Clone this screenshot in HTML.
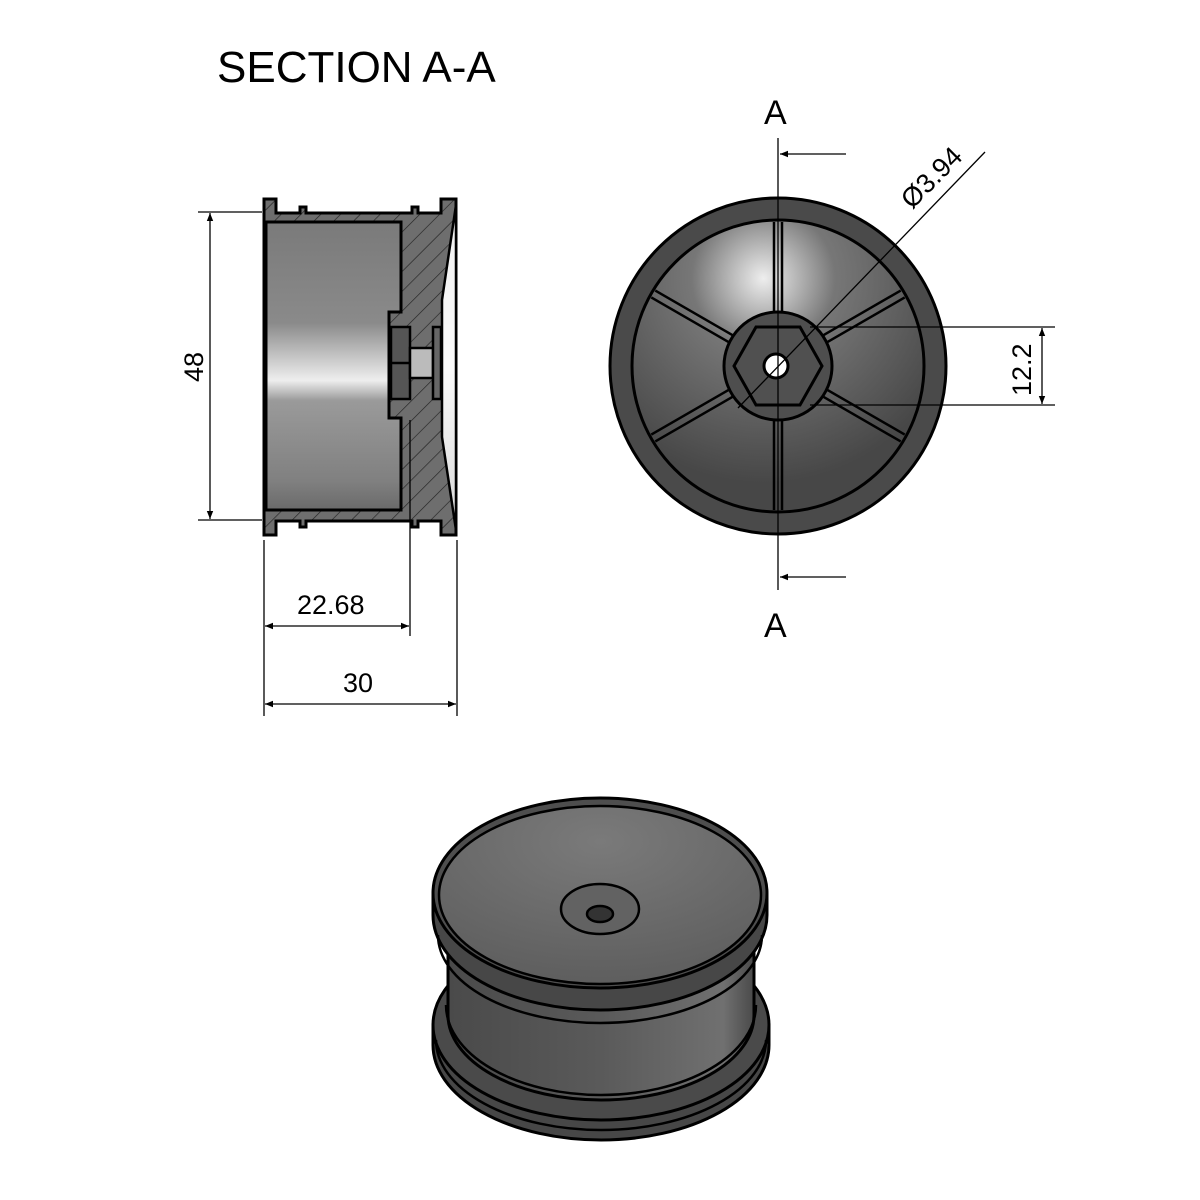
<!DOCTYPE html>
<html><head><meta charset="utf-8"><style>
html,body{margin:0;padding:0;background:#fff;width:1200px;height:1200px;overflow:hidden}
svg{display:block}
text{font-family:"Liberation Sans",sans-serif;fill:#000}
</style></head><body>
<svg width="1200" height="1200" viewBox="0 0 1200 1200" xmlns="http://www.w3.org/2000/svg">
<defs>
<linearGradient id="cyl" x1="0" y1="0" x2="0" y2="1">
<stop offset="0" stop-color="#7a7a7a"/><stop offset="0.35" stop-color="#8a8a8a"/><stop offset="0.55" stop-color="#eeeeee"/><stop offset="0.62" stop-color="#9a9a9a"/><stop offset="0.9" stop-color="#808080"/><stop offset="1" stop-color="#6a6a6a"/>
</linearGradient>
<linearGradient id="cone" x1="0" y1="0" x2="0" y2="1">
<stop offset="0" stop-color="#f0f0f0"/><stop offset="0.5" stop-color="#fafafa"/><stop offset="1" stop-color="#d8d8d8"/>
</linearGradient>
<pattern id="hatch" width="14" height="14" patternUnits="userSpaceOnUse" patternTransform="rotate(45)">
<rect width="14" height="14" fill="#6e6e6e"/><line x1="0" y1="0" x2="0" y2="14" stroke="#222" stroke-width="1.3"/>
</pattern>
<radialGradient id="face" cx="0.45" cy="0.2" r="0.7">
<stop offset="0" stop-color="#eeeeee"/><stop offset="0.35" stop-color="#777"/><stop offset="1" stop-color="#474747"/>
</radialGradient>
<linearGradient id="iso" x1="0" y1="0" x2="1" y2="0">
<stop offset="0" stop-color="#4a4a4a"/><stop offset="0.5" stop-color="#5a5a5a"/><stop offset="0.9" stop-color="#707070"/><stop offset="1" stop-color="#4a4a4a"/>
</linearGradient>
<radialGradient id="top" cx="0.5" cy="0.2" r="0.8">
<stop offset="0" stop-color="#7a7a7a"/><stop offset="1" stop-color="#5e5e5e"/>
</radialGradient>
<marker id="ar" viewBox="0 0 10 10" refX="10" refY="5" markerWidth="12" markerHeight="8" orient="auto-start-reverse" markerUnits="userSpaceOnUse"><path d="M0,1 L10,5 L0,9 z" fill="#000"/></marker>
</defs>

<text x="217" y="82" font-size="44">SECTION A-A</text>

<!-- Section view -->
<g stroke="#000" stroke-width="3">
<path d="M264,199 L276,199 L276,213 L300,213 L300,207 L306,207 L306,213 L412,213 L412,207 L418,207 L418,213 L441,213 L441,199 L456,199 L456,535 L441,535 L441,521 L418,521 L418,527 L412,527 L412,521 L306,521 L306,527 L300,527 L300,521 L276,521 L276,535 L264,535 Z" fill="url(#hatch)"/>
<path d="M266,222 L401,222 L401,312 L389,312 L389,418 L401,418 L401,510 L266,510 Z" fill="url(#cyl)"/>
<path d="M456,205 L442,300 L442,437 L456,530 Z" fill="url(#cone)" stroke-width="2.5"/>
<rect x="391" y="327" width="19" height="72" fill="#555" stroke-width="2.5"/>
<line x1="391" y1="363" x2="410" y2="363" stroke-width="2.5"/>
<rect x="410" y="348" width="23" height="30" fill="#bbb" stroke-width="2.5"/>
<rect x="433" y="327" width="8" height="72" fill="#666" stroke-width="2.5"/>
</g>
<g stroke="#000" stroke-width="1.3" fill="none">
<line x1="198" y1="212" x2="262" y2="212"/>
<line x1="198" y1="520" x2="262" y2="520"/>
<line x1="210" y1="213" x2="210" y2="519" marker-start="url(#ar)" marker-end="url(#ar)"/>
<line x1="264" y1="540" x2="264" y2="716"/>
<line x1="410" y1="420" x2="410" y2="636"/>
<line x1="457" y1="540" x2="457" y2="716"/>
<line x1="265" y1="626" x2="409" y2="626" marker-start="url(#ar)" marker-end="url(#ar)"/>
<line x1="265" y1="704" x2="456" y2="704" marker-start="url(#ar)" marker-end="url(#ar)"/>
</g>
<text x="0" y="0" font-size="27" transform="translate(203,382) rotate(-90)">48</text>
<text x="297" y="614" font-size="27">22.68</text>
<text x="343" y="692" font-size="27">30</text>

<!-- Front view -->
<g stroke="#000" stroke-width="3">
<circle cx="778" cy="366" r="168" fill="#4a4a4a"/>
<circle cx="778" cy="366" r="146" fill="url(#face)"/>
<g stroke-width="2.5" fill="none">
<g id="spk"><line x1="774" y1="222" x2="774" y2="312"/><line x1="782" y1="222" x2="782" y2="312"/></g>
<use href="#spk" transform="rotate(60 778 366)"/>
<use href="#spk" transform="rotate(120 778 366)"/>
<use href="#spk" transform="rotate(180 778 366)"/>
<use href="#spk" transform="rotate(240 778 366)"/>
<use href="#spk" transform="rotate(300 778 366)"/>
</g>
<circle cx="778" cy="366" r="54" fill="#4e4e4e"/>
<polygon points="756,327 800,327 822,366 800,405 756,405 734,366" fill="#505050"/>
<circle cx="776" cy="366" r="12" fill="#fff"/>
</g>
<g stroke="#000" stroke-width="1.3" fill="none">
<line x1="778" y1="138" x2="778" y2="590"/>
<line x1="780" y1="154" x2="846" y2="154" marker-start="url(#ar)"/>
<line x1="780" y1="577" x2="846" y2="577" marker-start="url(#ar)"/>
<line x1="738" y1="408" x2="985" y2="152"/>
<line x1="810" y1="327" x2="1055" y2="327"/>
<line x1="810" y1="405" x2="1055" y2="405"/>
<line x1="1042" y1="328" x2="1042" y2="404" marker-start="url(#ar)" marker-end="url(#ar)"/>
</g>
<text x="764" y="124" font-size="34">A</text>
<text x="764" y="637" font-size="34">A</text>
<text x="0" y="0" font-size="27" transform="translate(912,210) rotate(-45)">Ø3.94</text>
<text x="0" y="0" font-size="27" transform="translate(1031,396) rotate(-90)">12.2</text>

<!-- Iso view -->
<g stroke="#000" stroke-width="3">
<!-- bottom flange -->
<path d="M433,1025 L433,1045 A168,95 0 0 0 769,1045 L769,1025 Z" fill="#474747"/>
<ellipse cx="601" cy="1025" rx="168" ry="95" fill="#4a4a4a"/>
<path d="M436,1040 A165,90 0 0 0 766,1040" fill="none" stroke-width="2.5"/>
<!-- body -->
<path d="M448,935 L448,1015 A153,85 0 0 0 754,1015 L754,935 Z" fill="url(#iso)"/>
<path d="M446,1005 A155,90 0 0 0 756,1005" fill="none" stroke-width="2.5"/>
<!-- top flange -->
<path d="M433,895 L433,915 A167,95 0 0 0 767,915 L767,895 Z" fill="#474747"/>
<path d="M438,935 A162,88 0 0 0 762,935" fill="none" stroke-width="2.5"/>
<ellipse cx="600" cy="893" rx="167" ry="95" fill="#4e4e4e"/>
<ellipse cx="600" cy="895" rx="161" ry="89" fill="url(#top)" stroke-width="2.5"/>
<ellipse cx="600" cy="909" rx="39" ry="25" fill="#626262" stroke-width="2.5"/>
<ellipse cx="600" cy="914" rx="13" ry="8" fill="#333" stroke-width="2.5"/>
</g>
</svg>
</body></html>
